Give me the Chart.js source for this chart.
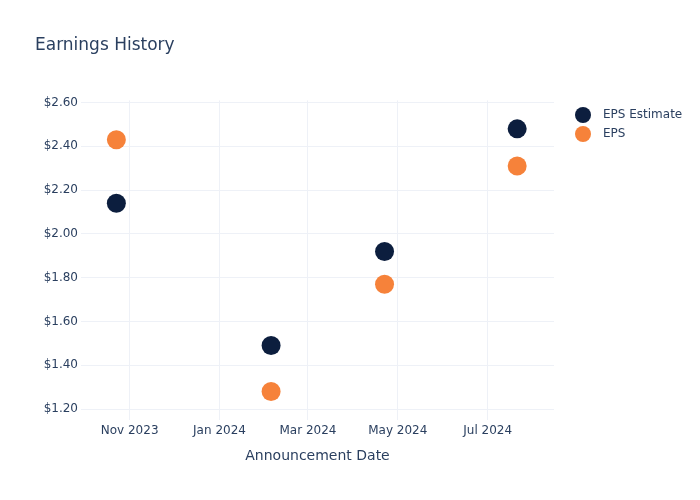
<!DOCTYPE html>
<html>
<head>
<meta charset="utf-8">
<script src="https://cdn.jsdelivr.net/npm/chart.js@4"></script>
<style>
  body { margin: 0; background: #fff; font-family: "DejaVu Sans", sans-serif; }
  #wrap { position: relative; width: 700px; height: 500px; }
  #legend { position: absolute; left: 575px; top: 105px; font-size: 12px; color: #2a3f5f; }
  .item { height: 19px; line-height: 19px; display: flex; align-items: center; }
  .dot { width: 16px; height: 16px; border-radius: 50%; margin-right: 12px; }
</style>
</head>
<body>
<div id="wrap">
  <canvas id="chart" width="700" height="500"></canvas>
  <div id="legend"></div>
</div>
<script>
const dates = ['2023-10-23', '2024-02-05', '2024-04-22', '2024-07-21'];
const epsEstimate = [2.14, 1.49, 1.92, 2.48];
const eps = [2.43, 1.28, 1.77, 2.31];
const xTickDates = ['2023-11-01', '2024-01-01', '2024-03-01', '2024-05-01', '2024-07-01'];
const xTickLabels = ['Nov 2023', 'Jan 2024', 'Mar 2024', 'May 2024', 'Jul 2024'];
const yTicks = [1.2, 1.4, 1.6, 1.8, 2.0, 2.2, 2.4, 2.6];

const navy = '#0c1e3e';
const orange = '#f6823a';
const textColor = '#2a3f5f';
const gridColor = '#eef1f7';

const toPoints = values => values.map((v, i) => ({ x: Date.parse(dates[i]), y: v }));

const series = [
  { label: 'EPS Estimate', data: toPoints(epsEstimate), color: navy },
  { label: 'EPS', data: toPoints(eps), color: orange }
];

const ctx = document.getElementById('chart').getContext('2d');
const chart = new Chart(ctx, {
  type: 'scatter',
  data: {
    datasets: series.map(s => ({
      label: s.label,
      data: s.data,
      backgroundColor: s.color,
      borderWidth: 0,
      pointRadius: 9.5,
      pointHoverRadius: 9.5
    }))
  },
  options: {
    responsive: false,
    animation: false,
    layout: { padding: { left: 35, right: 146, top: 0, bottom: 0 } },
    plugins: {
      legend: { display: false },
      tooltip: { enabled: false },
      title: {
        display: true,
        text: 'Earnings History',
        align: 'start',
        color: textColor,
        font: { family: 'DejaVu Sans', size: 17, weight: 'normal' },
        padding: { top: 35, bottom: 45 }
      }
    },
    scales: {
      x: {
        type: 'linear',
        min: Date.parse('2023-09-29'),
        max: Date.parse('2024-08-15'),
        border: { display: false },
        grid: { color: gridColor, drawTicks: false },
        afterBuildTicks: scale => {
          scale.ticks = xTickDates.map(d => ({ value: Date.parse(d) }));
        },
        afterFit: scale => { scale.height = 80; },
        ticks: {
          color: textColor,
          padding: 4,
          maxRotation: 0,
          autoSkip: false,
          font: { family: 'DejaVu Sans', size: 12 },
          callback: (value, index) => xTickLabels[index]
        },
        title: {
          display: true,
          text: 'Announcement Date',
          color: textColor,
          font: { family: 'DejaVu Sans', size: 14 },
          padding: { top: 0, bottom: 35 }
        }
      },
      y: {
        min: 1.15,
        max: 2.61,
        border: { display: false },
        grid: { color: gridColor, drawTicks: false },
        afterBuildTicks: scale => {
          scale.ticks = yTicks.map(v => ({ value: v }));
        },
        afterFit: scale => { scale.width = 46; },
        ticks: {
          color: textColor,
          padding: 3,
          font: { family: 'DejaVu Sans', size: 12 },
          callback: value => '$' + value.toFixed(2)
        }
      }
    }
  }
});

const legendElem = document.getElementById('legend');
series.forEach(s => {
  const item = document.createElement('div');
  item.className = 'item';
  item.innerHTML = `<span class="dot" style="background:${s.color}"></span><span>${s.label}</span>`;
  legendElem.appendChild(item);
});
</script>
</body>
</html>
